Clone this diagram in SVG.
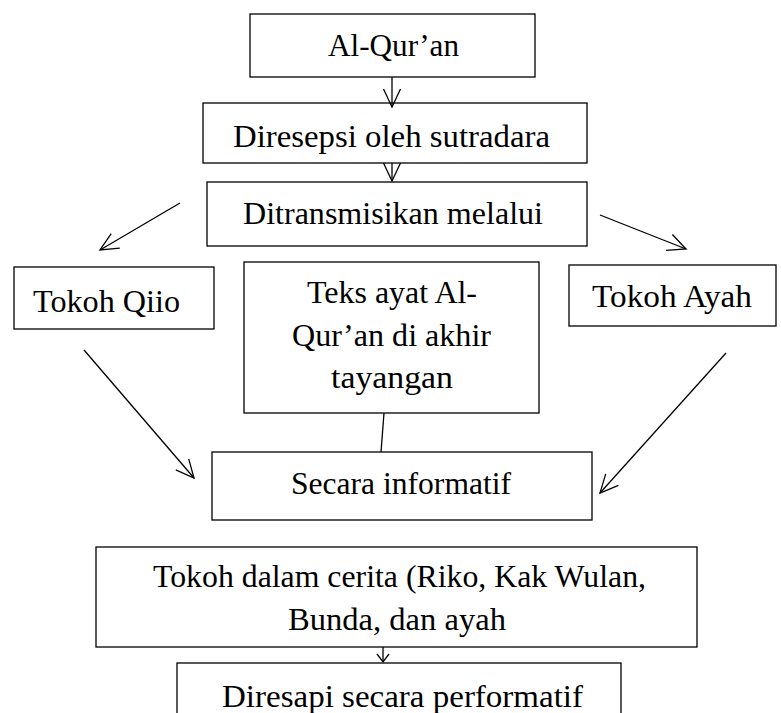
<svg xmlns="http://www.w3.org/2000/svg" width="781" height="713" viewBox="0 0 781 713">
<style>
.box{fill:#fff;stroke:#000;stroke-width:1.3}
.t{font-family:"Liberation Serif","Times New Roman",serif;font-size:32px;fill:#000}
.c{fill:none;stroke:#000;stroke-width:1.3}
</style>
<defs>
<marker id="ah" viewBox="-20 -10 22 20" refX="0" refY="0" markerWidth="22" markerHeight="20" markerUnits="userSpaceOnUse" orient="auto">
<path d="M-18,-8.5 L0,0 L-18,8.5" fill="none" stroke="#000" stroke-width="1.3"/>
</marker>
<marker id="ahs" viewBox="-10 -8 12 16" refX="0" refY="0" markerWidth="12" markerHeight="16" markerUnits="userSpaceOnUse" orient="auto">
<path d="M-8,-6 L0,0 L-8,6" fill="none" stroke="#000" stroke-width="1.3"/>
</marker>
</defs>
<rect width="781" height="713" fill="#fff"/>
<g id="n1"><rect class="box" x="250" y="14" width="285" height="63"/><text class="t" x="328" y="56" textLength="131" lengthAdjust="spacingAndGlyphs">Al-Qur’an</text></g>
<g id="n2"><rect class="box" x="203" y="103" width="384" height="60"/><text class="t" x="233" y="147" textLength="317" lengthAdjust="spacingAndGlyphs">Diresepsi oleh sutradara</text></g>
<g id="n3"><rect class="box" x="207" y="182" width="380" height="64"/><text class="t" x="243" y="224" textLength="300" lengthAdjust="spacingAndGlyphs">Ditransmisikan melalui</text></g>
<g id="n4"><rect class="box" x="14" y="267" width="200" height="62"/><text class="t" x="33" y="312" textLength="147" lengthAdjust="spacingAndGlyphs">Tokoh Qiio</text></g>
<g id="n5"><rect class="box" x="244" y="262" width="295" height="151"/>
<text class="t" x="307" y="303" textLength="170" lengthAdjust="spacingAndGlyphs">Teks ayat Al-</text>
<text class="t" x="292" y="346" textLength="199" lengthAdjust="spacingAndGlyphs">Qur’an di akhir</text>
<text class="t" x="331" y="388" textLength="122" lengthAdjust="spacingAndGlyphs">tayangan</text></g>
<g id="n6"><rect class="box" x="569" y="265" width="207" height="61"/><text class="t" x="592" y="307" textLength="160" lengthAdjust="spacingAndGlyphs">Tokoh Ayah</text></g>
<g id="n7"><rect class="box" x="212" y="452" width="380" height="68"/><text class="t" x="291" y="494" textLength="220" lengthAdjust="spacingAndGlyphs">Secara informatif</text></g>
<g id="n8"><rect class="box" x="96" y="547" width="601" height="100"/>
<text class="t" x="153" y="587" textLength="493" lengthAdjust="spacingAndGlyphs">Tokoh dalam cerita (Riko, Kak Wulan,</text>
<text class="t" x="288" y="630" textLength="218" lengthAdjust="spacingAndGlyphs">Bunda, dan ayah</text></g>
<g id="n9"><rect class="box" x="177" y="663" width="444" height="60"/><text class="t" x="222" y="707" textLength="361" lengthAdjust="spacingAndGlyphs">Diresapi secara performatif</text></g>
<g id="connectors">
<line class="c" x1="392" y1="77" x2="392" y2="107" marker-end="url(#ah)"/>
<line class="c" x1="392" y1="163" x2="392" y2="181" marker-end="url(#ah)"/>
<line class="c" x1="180" y1="203" x2="100" y2="250" marker-end="url(#ah)"/>
<line class="c" x1="600" y1="215" x2="686" y2="249" marker-end="url(#ah)"/>
<line class="c" x1="84" y1="350" x2="194" y2="478" marker-end="url(#ah)"/>
<line class="c" x1="726" y1="353" x2="600" y2="493" marker-end="url(#ah)"/>
<line class="c" x1="384" y1="413" x2="381" y2="452"/>
<line class="c" x1="383" y1="647" x2="383" y2="662" marker-end="url(#ahs)"/>
</g>
</svg>
